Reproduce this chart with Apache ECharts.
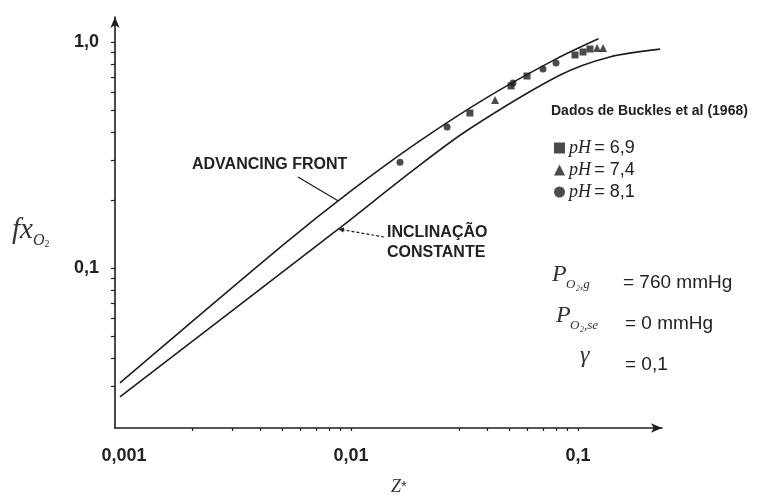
<!DOCTYPE html>
<html>
<head>
<meta charset="utf-8">
<script src="https://cdn.jsdelivr.net/npm/echarts@6/dist/echarts.min.js"></script>
<style>
  html, body { margin: 0; padding: 0; background: #ffffff; }
  #chart { width: 764px; height: 496px; }
</style>
</head>
<body>
<div id="chart"></div>
<script>
// ---- axis ticks and labels (log scales) ----
const xLabelValues = [0.001, 0.01, 0.1];
const yLabelValues = [0.1, 1];
const xTickValues = [0.002, 0.003, 0.004, 0.005, 0.006, 0.007, 0.008, 0.009, 0.01,
                     0.03, 0.04, 0.05, 0.06, 0.07, 0.08, 0.09, 0.1];
const yTickValues = [0.03, 0.04, 0.05, 0.06, 0.07, 0.08, 0.09, 0.1,
                     0.2, 0.3, 0.4, 0.5, 0.6, 0.7, 0.8, 0.9, 1];

// ---- model curves: fx_O2 versus Z* ----
const advancingZ  = [0.00096, 0.00501, 0.01, 0.01995, 0.0398, 0.0794, 0.123];
const advancingFx = [0.031, 0.1262, 0.2193, 0.3631, 0.5689, 0.8375, 1.033];
const constanteZ  = [0.00096, 0.00867, 0.0188, 0.0327, 0.0834, 0.138, 0.23];
const constanteFx = [0.0269, 0.147, 0.271, 0.408, 0.714, 0.859, 0.93];

// ---- Buckles et al (1968) measurements ----
const ph69Z  = [0.0334, 0.0507, 0.0596, 0.0970, 0.1052, 0.1129];
const ph69Fx = [0.485, 0.639, 0.707, 0.876, 0.903, 0.931];
const ph74Z  = [0.0431, 0.1213, 0.1289];
const ph74Fx = [0.554, 0.941, 0.941];
const ph81Z  = [0.01644, 0.0265, 0.0517, 0.0701, 0.0800];
const ph81Fx = [0.294, 0.421, 0.659, 0.760, 0.807];

const INK = '#1e1e1e';
const pairs = (xs, ys) => xs.map((x, i) => [x, ys[i]]);
const fmt = v => (v === 1 ? '1,0' : String(v).replace('.', ','));

const chart = echarts.init(document.getElementById('chart'), null, { renderer: 'canvas' });

const axisCommon = {
  type: 'log',
  axisLine: { show: true, symbol: ['none', 'arrow'], symbolSize: [7, 11],
              lineStyle: { color: INK, width: 1.6 } },
  splitLine: { show: false },
  minorTick: { show: false },
  minorSplitLine: { show: false }
};

const serif = '"Liberation Serif", "DejaVu Serif", serif';
const sans = '"Liberation Sans", Arial, sans-serif';

chart.setOption({
  animation: false,
  backgroundColor: '#ffffff',
  grid: { left: 115, top: 17, right: 102, bottom: 68, containLabel: false },
  xAxis: Object.assign({}, axisCommon, {
    min: 0.000913, max: 0.2344,
    axisTick: { show: true, customValues: xTickValues, length: 3, inside: false,
                lineStyle: { color: INK, width: 1.2 } },
    axisLabel: { customValues: xLabelValues, formatter: fmt, margin: 19,
                 fontFamily: sans, fontWeight: 'bold', fontSize: 18, color: '#222' }
  }),
  yAxis: Object.assign({}, axisCommon, {
    min: 0.01959, max: 1.29,
    axisTick: { show: true, customValues: yTickValues, length: 4, inside: false,
                lineStyle: { color: INK, width: 1.2 } },
    axisLabel: { customValues: yLabelValues, formatter: fmt, margin: 16,
                 fontFamily: sans, fontWeight: 'bold', fontSize: 18, color: '#222' }
  }),
  legend: {
    orient: 'vertical', left: 549, top: 134, itemGap: 4,
    itemWidth: 11, itemHeight: 11,
    data: [
      { name: 'pH69', icon: 'rect' },
      { name: 'pH74', icon: 'triangle' },
      { name: 'pH81', icon: 'circle' }
    ],
    formatter: n => '{i|pH} {t|= ' + { pH69: '6,9', pH74: '7,4', pH81: '8,1' }[n] + '}',
    textStyle: {
      padding: [0, 0, 0, -1],
      rich: {
        i: { fontFamily: serif, fontStyle: 'italic', fontSize: 18, color: '#222', lineHeight: 18 },
        t: { fontFamily: sans, fontSize: 18, color: '#222', lineHeight: 18 }
      }
    }
  },
  series: [
    { name: 'ADVANCING FRONT', type: 'line', data: pairs(advancingZ, advancingFx),
      showSymbol: false, smooth: 0.3, lineStyle: { color: INK, width: 1.6 } },
    { name: 'INCLINAÇÃO CONSTANTE', type: 'line', data: pairs(constanteZ, constanteFx),
      showSymbol: false, smooth: 0.3, lineStyle: { color: INK, width: 1.6 } },
    { name: 'pH69', type: 'scatter', symbol: 'rect', symbolSize: 7,
      data: pairs(ph69Z, ph69Fx), itemStyle: { color: INK } },
    { name: 'pH74', type: 'scatter', symbol: 'triangle', symbolSize: 8,
      data: pairs(ph74Z, ph74Fx), itemStyle: { color: INK } },
    { name: 'pH81', type: 'scatter', symbol: 'circle', symbolSize: 7,
      data: pairs(ph81Z, ph81Fx), itemStyle: { color: INK } }
  ]
});

// point on a curve at a given Z*, interpolated in log–log space
function curveAt(zs, fs, z) {
  const lz = Math.log10(z);
  for (let i = 0; i < zs.length - 1; i++) {
    const a = Math.log10(zs[i]), b = Math.log10(zs[i + 1]);
    if (lz >= a && lz <= b) {
      const t = (lz - a) / (b - a);
      return [z, Math.pow(10, Math.log10(fs[i]) + t * (Math.log10(fs[i + 1]) - Math.log10(fs[i])))];
    }
  }
  return [z, fs[fs.length - 1]];
}

const advTip = chart.convertToPixel({ gridIndex: 0 }, curveAt(advancingZ, advancingFx, 0.0088));
const incTip = chart.convertToPixel({ gridIndex: 0 }, curveAt(constanteZ, constanteFx, 0.0088));

// dashed leader with arrow head for the lower curve
const incFrom = [384, 237];
const ang = Math.atan2(incTip[1] - incFrom[1], incTip[0] - incFrom[0]);
const head = 6, spread = 0.45;
const arrowHead = [
  incTip,
  [incTip[0] - head * Math.cos(ang - spread), incTip[1] - head * Math.sin(ang - spread)],
  [incTip[0] - head * Math.cos(ang + spread), incTip[1] - head * Math.sin(ang + spread)]
];

const textStyleSans = (size, weight) => ({ fontFamily: sans, fontSize: size, fontWeight: weight || 'normal', fill: '#222' });
const italicSerif = size => ({ fontFamily: serif, fontStyle: 'italic', fontSize: size, fill: '#333' });

chart.setOption({
  graphic: [
    // y-axis title fx_O2
    { type: 'text', left: 12, top: 216,
      style: { text: '{a|fx}{b|O}{c|2}', rich: {
        a: { fontFamily: serif, fontStyle: 'italic', fontSize: 29, fill: '#333', lineHeight: 30 },
        b: { fontFamily: serif, fontStyle: 'italic', fontSize: 16, fill: '#333', padding: [20, 0, 0, 0] },
        c: { fontFamily: serif, fontSize: 10, fill: '#333', padding: [27, 0, 0, 0] }
      } } },
    // x-axis title
    { type: 'text', left: 391, top: 478,
      style: { text: '{a|Z}{b|*}', rich: {
        a: { fontFamily: serif, fontStyle: 'italic', fontSize: 18, fill: '#333' },
        b: { fontFamily: sans, fontSize: 15, fill: '#333' }
      } } },
    // curve captions
    { type: 'text', left: 192, top: 157, style: Object.assign({ text: 'ADVANCING FRONT' }, textStyleSans(16, 'bold')) },
    { type: 'line', shape: { x1: 298, y1: 177, x2: advTip[0], y2: advTip[1] },
      style: { stroke: INK, lineWidth: 1.3 } },
    { type: 'text', left: 387, top: 223, style: Object.assign({ text: 'INCLINAÇÃO\nCONSTANTE', lineHeight: 20 }, textStyleSans(16, 'bold')) },
    { type: 'line', shape: { x1: incFrom[0], y1: incFrom[1], x2: incTip[0], y2: incTip[1] },
      style: { stroke: INK, lineWidth: 1.2, lineDash: [3, 2] } },
    { type: 'polygon', shape: { points: arrowHead }, style: { fill: INK } },
    // data source heading
    { type: 'text', left: 551, top: 104, style: Object.assign({ text: 'Dados de Buckles et al (1968)' }, textStyleSans(14, 'bold')) },
    // operating conditions
    { type: 'text', left: 552, top: 263, style: Object.assign({ text: 'P' }, italicSerif(24)) },
    { type: 'text', left: 566, top: 278, style: Object.assign({ text: 'O₂,g' }, italicSerif(13)) },
    { type: 'text', left: 623, top: 273, style: Object.assign({ text: '= 760 mmHg' }, textStyleSans(19)) },
    { type: 'text', left: 556, top: 304, style: Object.assign({ text: 'P' }, italicSerif(24)) },
    { type: 'text', left: 570, top: 319, style: Object.assign({ text: 'O₂,se' }, italicSerif(13)) },
    { type: 'text', left: 625, top: 314, style: Object.assign({ text: '= 0 mmHg' }, textStyleSans(19)) },
    { type: 'text', left: 580, top: 344, style: Object.assign({ text: 'γ' }, italicSerif(24)) },
    { type: 'text', left: 625, top: 355, style: Object.assign({ text: '= 0,1' }, textStyleSans(19)) }
  ]
});
</script>
</body>
</html>
